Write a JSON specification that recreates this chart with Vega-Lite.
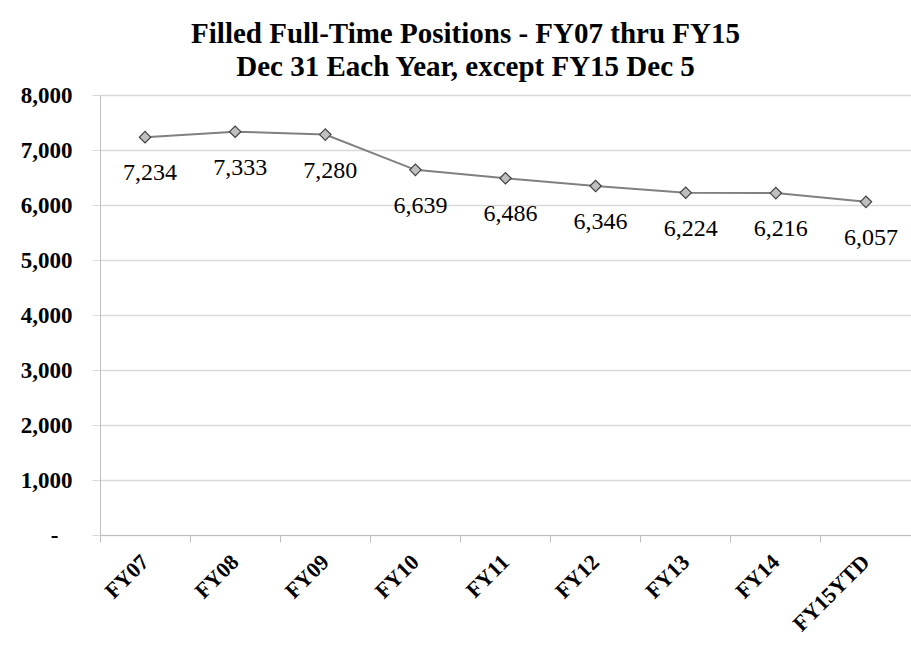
{
  "$schema": "https://vega.github.io/schema/vega-lite/v6.json",
  "autosize": {"type": "none"},
  "width": 811,
  "height": 440,
  "padding": {"left": 100, "top": 95, "right": 0, "bottom": 133},
  "background": "white",
  "config": {"view": {"stroke": null}},
  "title": {
    "text": ["Filled Full-Time Positions - FY07 thru FY15", "Dec 31 Each Year, except FY15 Dec 5"],
    "font": "Liberation Serif",
    "fontSize": 29,
    "fontWeight": "bold",
    "color": "black",
    "lineHeight": 33,
    "anchor": "middle",
    "dx": -40,
    "offset": 2
  },
  "data": {
    "values": [
      {"year": "FY07", "positions": 7234},
      {"year": "FY08", "positions": 7333},
      {"year": "FY09", "positions": 7280},
      {"year": "FY10", "positions": 6639},
      {"year": "FY11", "positions": 6486},
      {"year": "FY12", "positions": 6346},
      {"year": "FY13", "positions": 6224},
      {"year": "FY14", "positions": 6216},
      {"year": "FY15YTD", "positions": 6057}
    ]
  },
  "encoding": {
    "x": {
      "field": "year",
      "type": "nominal",
      "sort": null,
      "scale": {"type": "band", "paddingInner": 0, "paddingOuter": 0},
      "axis": {
        "title": null,
        "bandPosition": 0,
        "labelAngle": -45,
        "labelAlign": "right",
        "labelBaseline": "middle",
        "labelFont": "Liberation Serif",
        "labelFontSize": 22,
        "labelFontWeight": "bold",
        "labelColor": "black",
        "labelPadding": 16,
        "tickSize": 7,
        "tickColor": "#bfbfbf",
        "domainColor": "#bfbfbf",
        "grid": false
      }
    },
    "y": {
      "field": "positions",
      "type": "quantitative",
      "scale": {"domain": [0, 8000], "nice": false, "zero": true},
      "axis": {
        "title": null,
        "values": [0, 1000, 2000, 3000, 4000, 5000, 6000, 7000, 8000],
        "labelExpr": "datum.value == 0 ? '-' : format(datum.value, ',')",
        "labelFont": "Liberation Serif",
        "labelFontSize": 23,
        "labelFontWeight": "bold",
        "labelColor": "black",
        "labelPadding": {"condition": {"test": "datum.value == 0", "value": 34}, "value": 20},
        "tickSize": 8,
        "tickColor": "#d9d9d9",
        "domainColor": "#bfbfbf",
        "gridColor": "#d9d9d9",
        "gridWidth": 1.5
      }
    }
  },
  "layer": [
    {"mark": {"type": "line", "color": "#808080", "strokeWidth": 2}},
    {"mark": {"type": "point", "shape": "diamond", "filled": true, "fill": "#bfbfbf", "stroke": "#404040", "strokeWidth": 1.2, "size": 130, "opacity": 1}},
    {
      "mark": {"type": "text", "dy": 36, "dx": 5, "font": "Liberation Serif", "fontSize": 24, "color": "black", "baseline": "middle"},
      "encoding": {"text": {"field": "positions", "type": "quantitative", "format": ","}}
    }
  ]
}
